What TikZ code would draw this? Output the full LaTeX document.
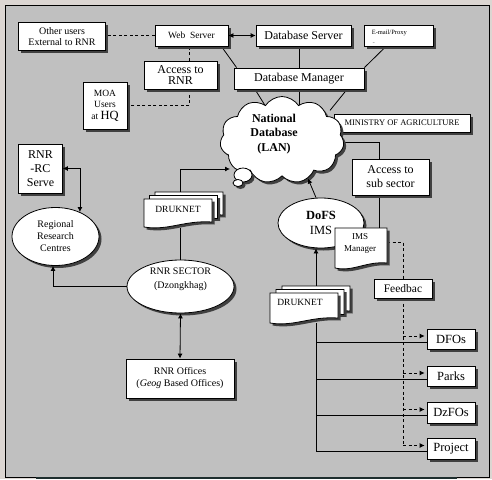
\documentclass[tikz,border=0pt]{standalone}
\usepackage{fontspec}
\setmainfont{Liberation Serif}
\usetikzlibrary{shapes.geometric,shapes.symbols,shadows,arrows.meta,calc,backgrounds}
\pgfdeclarelayer{edges}
\pgfsetlayers{background,edges,main}
\definecolor{outerbg}{HTML}{DCD6D2}
\definecolor{panelgray}{HTML}{C0C0C0}
\definecolor{stripdark}{HTML}{1E2E2E}
\newcommand{\fsz}[2]{\fontsize{#1}{#2}\selectfont}
\newcommand{\docpage}[4]{\path[docpg] (#1,#2) -- (#3,#2) -- (#3,{#4-5}) .. controls ({#1+0.6*(#3-#1)},{#4-7}) and ({#1+0.35*(#3-#1)},{#4+4}) .. (#1,#4) -- cycle;}
\tikzset{
  sh/.style={drop shadow={shadow xshift=2.5pt, shadow yshift=-2.5pt, fill=black!75, opacity=1}},
  box/.style={draw, fill=white, line width=0.8pt, sh, inner sep=0pt, align=center},
  oval/.style={ellipse, draw, fill=white, line width=0.8pt, sh, inner sep=0pt, align=center},
  docpg/.style={draw, fill=white, line width=0.8pt, sh},
  conn/.style={line width=0.8pt},
  dconn/.style={line width=0.8pt, dash pattern=on 3pt off 2.5pt},
  arr/.style={-{Latex[length=5pt,width=5pt]}},
  darr/.style={{Latex[length=5pt,width=5pt]}-{Latex[length=5pt,width=5pt]}},
  lbl/.style={inner sep=0pt, align=center}
}
\begin{document}
\begin{tikzpicture}[x=1pt,y=-1pt]
\useasboundingbox (0,0) rectangle (492,479);
\begin{pgfonlayer}{background}
  \fill[outerbg] (0,0) rectangle (492,479);
  \filldraw[fill=panelgray, draw=black, line width=0.8pt] (5,5) rectangle (489,477);
  \fill[stripdark] (36,477) rectangle (457,479);
\end{pgfonlayer}

% top row
\node[box, minimum width=87pt, minimum height=28pt, font=\fsz{10}{10.6}] (other) at (62,36.7) {Other users\\External to RNR};
\node[box, minimum width=73pt, minimum height=21pt, font=\fsz{9.5}{11}] (web) at (191.5,35.5) {Web\ \ Server};
\node[box, minimum width=95pt, minimum height=21pt, font=\fsz{12}{14}] (dbs) at (303.5,35.5) {Database Server};
\node[box, minimum width=69pt, minimum height=21pt] (mail) at (398.5,35.5) {};
\begin{scope}
  \clip (mail.north west) rectangle ([yshift=3.5pt]mail.south east);
  \node[anchor=north west, inner sep=0pt, align=left, font=\fsz{6.5}{12.5}] (mailtext) at ([xshift=8pt,yshift=-5.3pt]mail.north west) {E-mail/Proxy\\Servers};
\end{scope}
\node[box, minimum width=73pt, minimum height=28pt, font=\fsz{12}{11}] (acc) at (180.5,75) {Access to\\RNR};
\node[box, minimum width=130pt, minimum height=21pt, font=\fsz{12}{14}] (dbm) at (299,78.5) {Database Manager};
\node[box, minimum width=44pt, minimum height=47pt, font=\fsz{9.5}{11.5}] (moa) at (105,105.5) {MOA\\Users\\at {\fsz{12.5}{12.5}HQ}};
\node[box, minimum width=136pt, minimum height=18pt, font=\fsz{8.5}{10}] (min) at (402,123) {MINISTRY OF AGRICULTURE};

% cloud
\node[cloud, draw, fill=white, line width=0.8pt, sh, cloud puffs=11, cloud puff arc=115, aspect=1.45, minimum width=124pt, minimum height=87pt, inner sep=0pt] (cloud) at (282,140) {};
\node[oval, minimum width=18pt, minimum height=14pt] (bub1) at (243,175) {};
\node[oval, minimum width=10pt, minimum height=7pt] (bub2) at (238,183) {};
\node[lbl, font=\bfseries\fsz{12}{14.5}] (cloudlabel) at (274,134) {National\\Database\\(LAN)};

% left side
\node[box, minimum width=44pt, minimum height=49pt, font=\fsz{12}{14}] (rc) at (40.5,168.5) {RNR\\-RC\\Serve};
\node[oval, minimum width=87pt, minimum height=58pt, font=\fsz{10}{12}] (rrc) at (55.5,236.5) {Regional\\Research\\Centres};

% DRUKNET left
\node[inner sep=0pt, minimum width=79pt, minimum height=36pt] (druk1) at (183.5,210) {};
\docpage{155}{192}{223}{220}
\docpage{149.5}{195.5}{217.5}{223.5}
\docpage{144}{199}{212}{227}
\node[lbl, font=\fsz{9.5}{10}] (druk1label) at (178,209) {DRUKNET};

% right middle
\node[box, minimum width=77pt, minimum height=36pt, font=\fsz{12}{14}] (sub) at (390.5,177) {Access to\\sub sector};
\node[oval, minimum width=86pt, minimum height=50pt, font=\fsz{12.5}{15}] (dofs) at (321,223) {\textbf{DoFS}\\IMS};
\node[inner sep=0pt, minimum width=52pt, minimum height=40pt] (ims) at (361,248) {};
\docpage{335}{228}{387}{268}
\node[lbl, font=\fsz{9}{12}] (imslabel) at (360,243) {IMS\\Manager};
\node[box, minimum width=58pt, minimum height=19pt, font=\fsz{11.5}{13}] (feed) at (403,288.5) {Feedbac};

\node[oval, minimum width=107pt, minimum height=53pt, font=\fsz{10}{14}] (sector) at (180.5,286.5) {RNR SECTOR\\(Dzongkhag)\\[2pt]};

% DRUKNET right
\node[inner sep=0pt, minimum width=80pt, minimum height=37pt] (druk2) at (310,304.5) {};
\docpage{282}{286}{350}{316}
\docpage{276}{289.5}{344}{319.5}
\docpage{270}{293}{338}{323}
\node[lbl, font=\fsz{9.5}{10}] (druk2label) at (300,302) {DRUKNET};

\node[box, minimum width=108pt, minimum height=39pt, font=\fsz{10}{12}] (off) at (180,378.5) {RNR Offices\\(\textit{Geog} Based Offices)};

\node[box, minimum width=48pt, minimum height=20pt, font=\fsz{12.5}{14}] (dfo) at (451,339) {DFOs};
\node[box, minimum width=48pt, minimum height=20pt, font=\fsz{12.5}{14}] (parks) at (451,376) {Parks};
\node[box, minimum width=48pt, minimum height=21pt, font=\fsz{12.5}{14}] (dzfo) at (451,412.5) {DzFOs};
\node[box, minimum width=48pt, minimum height=21pt, font=\fsz{12.5}{14}] (proj) at (451,448.5) {Project};

\coordinate (d2) at ([xshift=6pt]druk2.south);
\coordinate (d2n) at ([xshift=6pt]druk2.north);
\coordinate (fb) at (feed.south);
\coordinate (d1n) at ([xshift=-3.5pt]druk1.north);
\coordinate (cin) at (230,169);

% plain connectors, under the nodes
\begin{pgfonlayer}{edges}
  \draw[dconn] (web.west) -- (web.west -| other.east);
  \draw[conn] ([xshift=-7pt]web.south east) -- ([xshift=3pt]dbm.north west);
  \draw[conn] (dbm.north) -- (dbm.north |- dbs.south);
  \draw[conn] ([xshift=-12.5pt]mail.south) -- (dbm.north east);
  \draw[conn] ([xshift=-44pt]dbm.south) -- ++(10,16);
  \draw[conn] (dbm.south) -- ++(0,20);
  \draw[conn] ([xshift=48pt]dbm.south) -- ++(-17,21);
  \draw[dconn] ([xshift=9.2pt]acc.north) -- ++(0,-16);
  \draw[dconn] ([xshift=9.2pt]acc.south) |- (moa.east);
  \draw[conn] ($(cloud.center)+(0,2)$) -| ([xshift=-11pt]sub.north);
  \draw[conn] ([xshift=-11pt]sub.south) -- ++(0,34);
  \draw[dconn] ([yshift=6pt]ims.east) -| (feed.north);
  \draw[dconn] (fb) -- ($(proj.west -| fb)+(0,-3)$);
  \draw[conn] (d2) -- ($(proj.west -| d2)+(0,3)$);
  \foreach \n in {dfo,parks,dzfo,proj}
    \draw[conn] ($(\n.west -| d2)+(0,3)$) -- ($(\n.west)+(0,3)$);
  \draw[conn] (sector.north) -- (sector.north |- druk1.south);
\end{pgfonlayer}

% arrows, on top
\draw[conn,darr] (web.east) -- (dbs.west);
\foreach \n in {dfo,parks,dzfo,proj}
  \draw[dconn,arr] ($(\n.west -| fb)+(0,-3)$) -- ($(\n.west)+(-2,-3)$);
\draw[conn,arr] (d2n) -- (d2n |- dofs.south);
\draw[conn,arr] ([xshift=-5pt]dofs.north) -- ++(-8,-19);
\draw[conn,arr] (d1n) |- (cin);
\draw[conn,arr] (sector.west) -| ($(rrc.south)+(-2.5,0)$);
\draw[conn,darr] (rc.east) -| (rrc.45);
\draw[conn,darr] (sector.south) -- (off.north);
\end{tikzpicture}
\end{document}
